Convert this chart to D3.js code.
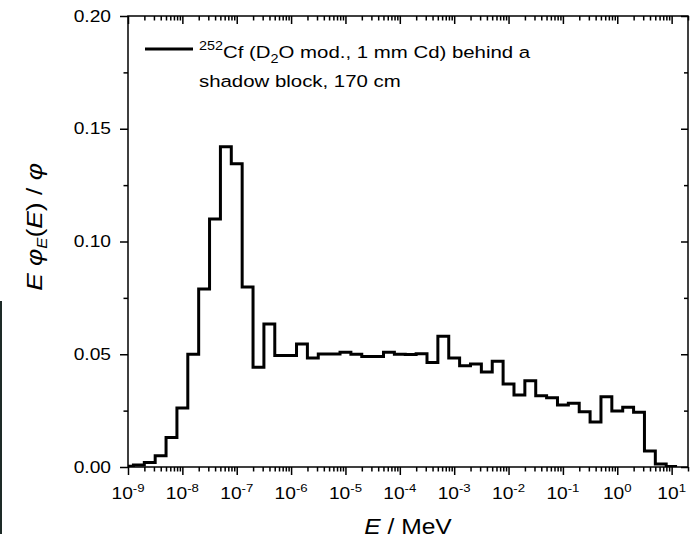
<!DOCTYPE html>
<html>
<head>
<meta charset="utf-8">
<script src="https://cdn.jsdelivr.net/npm/d3@7"></script>
<style>
  body { margin: 0; background: #fff; }
  svg { display: block; font-family: "Liberation Sans", Arial, sans-serif; }
</style>
</head>
<body>
<svg id="chart" width="690" height="540"></svg>
<script>
// bin edges as log10(E / MeV)
let edgeExp = [-9.1, -8.9, -8.7, -8.5, -8.3, -8.1, -7.9, -7.7, -7.5, -7.3, -7.1,
               -6.9, -6.7, -6.5, -6.3, -6.1, -5.9, -5.7, -5.5, -5.3, -5.1,
               -4.9, -4.7, -4.5, -4.3, -4.1, -3.9, -3.7, -3.5, -3.3, -3.1,
               -2.9, -2.7, -2.5, -2.3, -2.1, -1.9, -1.7, -1.5, -1.3, -1.1,
               -0.9, -0.7, -0.5, -0.3, -0.1, 0.1, 0.3, 0.5, 0.7, 0.9, 1.1];

// E phi_E(E) / phi for each bin
let flux = [0.0003, 0.0009, 0.0020, 0.0050, 0.0131, 0.0262, 0.0500, 0.0789, 0.1100, 0.1420,
            0.1345, 0.0798, 0.0442, 0.0634, 0.0494, 0.0494, 0.0546, 0.0483, 0.0501, 0.0501,
            0.0509, 0.0500, 0.0490, 0.0490, 0.0509, 0.0500, 0.0499, 0.0502, 0.0463, 0.0580,
            0.0483, 0.0449, 0.0457, 0.0421, 0.0469, 0.0368, 0.0319, 0.0382, 0.0316, 0.0307,
            0.0275, 0.0283, 0.0245, 0.0200, 0.0312, 0.0248, 0.0265, 0.0243, 0.0071, 0.0013,
            0.0002];

let yTicks = [0, 0.05, 0.10, 0.15, 0.20];
let yTickLabels = ['0.00', '0.05', '0.10', '0.15', '0.20'];
let yMinor = [0.025, 0.075, 0.125, 0.175];
let xDecades = [-9, -8, -7, -6, -5, -4, -3, -2, -1, 0, 1];

let SX = 1.2; // the original lettering is wider than Arial

let svg = d3.select('#chart');
let pLeft = 128, pRight = 688, pTop = 16, pBottom = 467;

let x = d3.scaleLog().domain([1e-9, 20]).range([pLeft, pRight]);
let y = d3.scaleLinear().domain([0, 0.2]).range([pBottom, pTop]);

// strip on the left edge of the picture
svg.append('rect').attr('x', 0).attr('y', 301).attr('width', 2).attr('height', 233).attr('fill', '#1d2a27');

let majors = xDecades.map(function(d){ return Math.pow(10, d); });
let minors = [];
xDecades.forEach(function(d){
  for (let m = 2; m <= 9; m++) {
    let v = m * Math.pow(10, d);
    if (v <= 20) minors.push(v);
  }
});

function tidy(g) {
  g.select('.domain').remove();
  g.selectAll('line').attr('stroke', '#000').attr('stroke-width', 1.5);
}

// axes
svg.append('g').attr('transform', 'translate(0,' + pBottom + ')')
  .call(d3.axisBottom(x).tickValues(majors).tickSize(8).tickFormat('')).call(tidy);
svg.append('g').attr('transform', 'translate(0,' + pBottom + ')')
  .call(d3.axisBottom(x).tickValues(minors).tickSize(4.5).tickFormat('')).call(tidy);
svg.append('g').attr('transform', 'translate(0,' + pTop + ')')
  .call(d3.axisTop(x).tickValues(majors).tickSize(-8).tickFormat('')).call(tidy);
svg.append('g').attr('transform', 'translate(0,' + pTop + ')')
  .call(d3.axisTop(x).tickValues(minors).tickSize(-4.5).tickFormat('')).call(tidy);

let yAxis = svg.append('g').attr('transform', 'translate(' + pLeft + ',0)')
  .call(d3.axisLeft(y).tickValues(yTicks).tickSize(8).tickPadding(9)
    .tickFormat(function(d, i){ return yTickLabels[i]; }))
  .call(tidy);
svg.append('g').attr('transform', 'translate(' + pLeft + ',0)')
  .call(d3.axisLeft(y).tickValues(yMinor).tickSize(4.5).tickFormat('')).call(tidy);
svg.append('g').attr('transform', 'translate(' + pRight + ',0)')
  .call(d3.axisRight(y).tickValues(yTicks).tickSize(-7).tickFormat('')).call(tidy);
svg.append('g').attr('transform', 'translate(' + pRight + ',0)')
  .call(d3.axisRight(y).tickValues(yMinor).tickSize(-4).tickFormat('')).call(tidy);

yAxis.selectAll('text')
  .attr('font-size', 16).attr('font-family', '"Liberation Sans", Arial, sans-serif').attr('fill', '#000')
  .each(function(){
    let t = d3.select(this);
    let tx = +t.attr('x');
    t.attr('x', 0).attr('transform', 'translate(' + tx + ',0) scale(' + SX + ',1)');
  });

// x tick labels 10^n
let xl = svg.append('g');
xDecades.forEach(function(d){
  let t = xl.append('text')
    .attr('transform', 'translate(' + x(Math.pow(10, d)) + ',499) scale(' + SX + ',1)')
    .attr('text-anchor', 'middle').attr('font-size', 16);
  t.append('tspan').text('10');
  t.append('tspan').attr('font-size', 11).attr('dy', -7).text(d);
});

// spectrum as a step line
let pts = flux.map(function(v, i){ return [Math.pow(10, edgeExp[i]), v]; });
pts.push([Math.pow(10, edgeExp[edgeExp.length - 1]), flux[flux.length - 1]]);

svg.append('clipPath').attr('id', 'plotclip')
  .append('rect').attr('x', pLeft).attr('y', pTop).attr('width', pRight - pLeft).attr('height', pBottom - pTop);

let line = d3.line()
  .x(function(d){ return x(d[0]); })
  .y(function(d){ return y(d[1]); })
  .curve(d3.curveStepAfter);

svg.append('path')
  .datum(pts)
  .attr('clip-path', 'url(#plotclip)')
  .attr('d', line)
  .attr('fill', 'none')
  .attr('stroke', '#000')
  .attr('stroke-width', 3);

// frame
svg.append('rect')
  .attr('x', pLeft).attr('y', pTop).attr('width', pRight - pLeft).attr('height', pBottom - pTop)
  .attr('fill', 'none').attr('stroke', '#000').attr('stroke-width', 1.5);

// legend
svg.append('line').attr('x1', 145).attr('x2', 193).attr('y1', 49).attr('y2', 49)
  .attr('stroke', '#000').attr('stroke-width', 3);
let lg1 = svg.append('text').attr('transform', 'translate(199,57.5) scale(' + SX + ',1)').attr('font-size', 17);
lg1.append('tspan').attr('font-size', 12).attr('dy', -8).text('252');
lg1.append('tspan').attr('dy', 8).text('Cf (D');
lg1.append('tspan').attr('font-size', 12).attr('dy', 5).text('2');
lg1.append('tspan').attr('dy', -5).text('O mod., 1 mm Cd) behind a');
svg.append('text').attr('transform', 'translate(199,87) scale(' + SX + ',1)').attr('font-size', 17)
  .text('shadow block, 170 cm');

// axis titles
let xt = svg.append('text').attr('transform', 'translate(408,534) scale(1.12,1)')
  .attr('text-anchor', 'middle').attr('font-size', 22);
xt.append('tspan').attr('font-style', 'italic').text('E');
xt.append('tspan').text(' / MeV');

let yt = svg.append('text').attr('transform', 'translate(42,227) rotate(-90) scale(' + SX + ',1)')
  .attr('text-anchor', 'middle').attr('font-size', 22);
yt.append('tspan').attr('font-style', 'italic').text('E \u03c6');
yt.append('tspan').attr('font-style', 'italic').attr('font-size', 14).attr('dy', 5).text('E');
yt.append('tspan').attr('dy', -5).text('(');
yt.append('tspan').attr('font-style', 'italic').text('E');
yt.append('tspan').text(') / ');
yt.append('tspan').attr('font-style', 'italic').text('\u03c6');
</script>
</body>
</html>
